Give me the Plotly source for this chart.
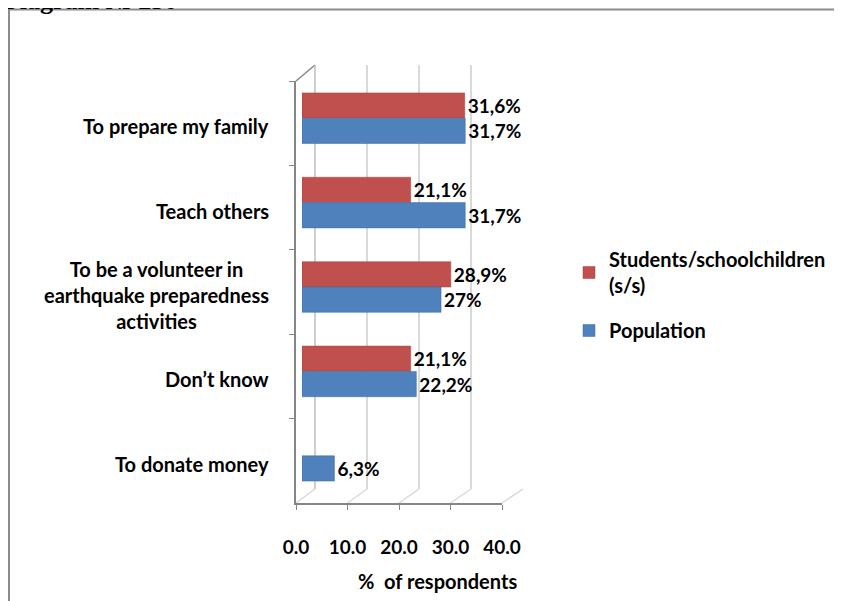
import plotly.graph_objects as go

# ---- data ----
categories = [
    "To prepare my family",
    "Teach others",
    "To be a volunteer in<br>earthquake preparedness<br>activities",
    "Don’t know",
    "To donate money",
]
students = [31.6, 21.1, 28.9, 21.1, None]
population = [31.7, 31.7, 27.0, 22.2, 6.3]
series_names = ["Students/schoolchildren<br>(s/s)", "Population"]
x_ticks = [0, 10, 20, 30, 40]
title_text = "Diagram № 230"
axis_title = "%\u00a0\u00a0of respondents"

W, H = 842, 601
OX, OY = 8, 8  # page body margin


def px_x(p):
    return (p - OX) / W


def px_y(p):
    return (H - (p - OY)) / H


def fmt(v):
    if v is None:
        return ""
    return ("%g" % v).replace(".", ",") + "%"


FONT = "Lato"
AXC = "#868686"
GRID = "#D9D9D9"
bold19 = dict(family=FONT, size=19, color="black", weight="bold")
bold20 = dict(family=FONT, size=20, color="black", weight="bold")
cat_range = [len(categories) - 0.5, -0.5]  # reversed: first category on top

fig = go.Figure()

fig.add_trace(go.Bar(
    name=series_names[0], y=categories, x=students, orientation="h",
    xaxis="x3", yaxis="y3",
    marker=dict(color="#C0504D", line=dict(color="#A5423F", width=0.5)),
    text=[fmt(v) for v in students], textposition="outside", cliponaxis=False,
    textfont=bold19, legendgroup="a", hoverinfo="skip",
))
fig.add_trace(go.Bar(
    name=series_names[1], y=categories, x=population, orientation="h",
    xaxis="x3", yaxis="y3",
    marker=dict(color="#4F81BD", line=dict(color="#3F6A9E", width=0.5)),
    text=[fmt(v) for v in population], textposition="outside", cliponaxis=False,
    textfont=bold19, legendgroup="b", hoverinfo="skip",
))
# front axes (categories only, nothing drawn) and back wall (3D-style grid)
fig.add_trace(go.Scatter(x=[None] * len(categories), y=categories,
                         xaxis="x", yaxis="y", mode="markers",
                         showlegend=False, hoverinfo="skip"))
fig.add_trace(go.Scatter(x=[None], y=[None], xaxis="x2", yaxis="y2",
                         showlegend=False, hoverinfo="skip"))

fig.update_layout(
    width=W, height=H,
    autosize=False,
    margin=dict(l=0, r=0, t=0, b=0, pad=0, autoexpand=False),
    paper_bgcolor="white", plot_bgcolor="rgba(0,0,0,0)",
    barmode="group", bargap=0.4, bargroupgap=0,
    font=dict(family=FONT, size=19, color="black"),
    xaxis=dict(
        domain=[px_x(296), px_x(502)], range=[0, 40], tickvals=x_ticks,
        tickformat=".1f", showgrid=False, zeroline=False,
        showline=True, linecolor=AXC, linewidth=1.5,
        ticks="outside", ticklen=5, tickcolor=AXC,
        tickfont=bold19, ticklabelstandoff=21, anchor="y", automargin=False,
    ),
    yaxis=dict(
        type="category",
        domain=[px_y(503), px_y(81)], range=cat_range, autorange=False,
        categoryorder="array", categoryarray=categories,
        showticklabels=False, showgrid=False, zeroline=False,
        showline=True, linecolor=AXC, linewidth=1.5,
        ticks="outside", ticklen=5, tickcolor=AXC, tickson="boundaries",
        anchor="x", automargin=False,
    ),
    xaxis3=dict(
        domain=[px_x(302), px_x(508)], range=[0, 40], visible=False,
        anchor="y3", automargin=False,
    ),
    yaxis3=dict(
        type="category",
        domain=[px_y(498), px_y(76)], range=cat_range, autorange=False,
        categoryorder="array", categoryarray=categories,
        visible=False, anchor="x3", automargin=False,
    ),
    xaxis2=dict(
        domain=[px_x(315), px_x(523.3)], range=[0, 40.05], dtick=10,
        showgrid=True, gridcolor=GRID, gridwidth=1.5,
        showticklabels=False, zeroline=False, showline=False, anchor="y2",
        automargin=False, layer="below traces",
    ),
    yaxis2=dict(
        domain=[px_y(489), px_y(65)], range=[0, 1], showgrid=False,
        showticklabels=False, zeroline=False, showline=False, anchor="x2",
        automargin=False,
    ),
    legend=dict(
        x=px_x(569), y=px_y(240), xanchor="left", yanchor="top",
        traceorder="grouped", tracegroupgap=16, itemwidth=30,
        font=bold20, bgcolor="rgba(0,0,0,0)",
    ),
    showlegend=True,
)

# category labels
for c in categories:
    fig.add_annotation(
        x=px_x(271), xref="paper", y=c, yref="y", yshift=-3,
        text=c, showarrow=False, xanchor="right", align="center",
        font=bold20,
    )

# axis title
fig.add_annotation(
    x=px_x(437), y=px_y(581), xref="paper", yref="paper",
    text=axis_title, showarrow=False, xanchor="center", yanchor="middle",
    font=bold20,
)

# partially visible document caption above the frame
fig.add_annotation(
    x=px_x(-1), y=px_y(17), xref="paper", yref="paper", xanchor="left", yanchor="bottom",
    text=title_text, showarrow=False,
    font=dict(family="Liberation Serif", size=26, color="black", weight="bold"),
)

# 3D floor / wall edges (decoration)
front0, front1, back0, back1 = 296, 502, 315, 523
n = len(x_ticks) - 1
for i in range(len(x_ticks)):
    fx = front0 + (front1 - front0) * i / n
    bx = back0 + (back1 - back0) * i / n
    fig.add_shape(type="line", xref="paper", yref="paper",
                  x0=px_x(fx), y0=px_y(503), x1=px_x(bx), y1=px_y(489),
                  line=dict(color=GRID, width=1.5), layer="below")
fig.add_shape(type="line", xref="paper", yref="paper",
              x0=px_x(296), y0=px_y(81), x1=px_x(315), y1=px_y(65),
              line=dict(color=AXC, width=1.5), layer="below")
fig.add_shape(type="line", xref="paper", yref="paper",
              x0=px_x(315), y0=px_y(65), x1=px_x(315), y1=px_y(489),
              line=dict(color="#BFBFBF", width=1.5), layer="below")

# frame around the chart
fig.add_shape(type="rect", xref="paper", yref="paper",
              x0=px_x(9), x1=1.05, y0=-0.05, y1=px_y(9.5),
              line=dict(color="#8C8C8C", width=2), fillcolor="rgba(0,0,0,0)")

fig.write_html("out.html")
